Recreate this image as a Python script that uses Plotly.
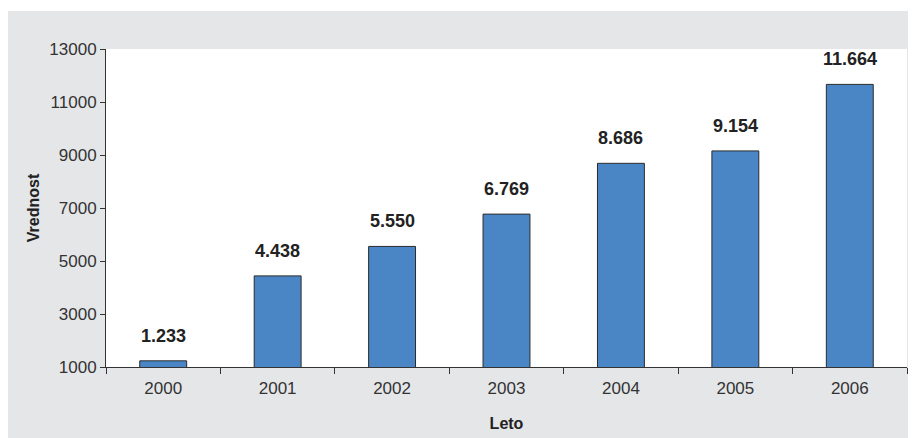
import plotly.graph_objects as go

years = ["2000", "2001", "2002", "2003", "2004", "2005", "2006"]
values = [1233, 4438, 5550, 6769, 8686, 9154, 11664]
y_ticks = [1000, 3000, 5000, 7000, 9000, 11000, 13000]

labels = [f"{v:,}".replace(",", ".") for v in values]

W, H = 915, 438
L, R, T, B = 106, 8, 49, 71
pw, ph = W - L - R, H - T - B

fig = go.Figure()
fig.add_trace(go.Bar(
    x=years, y=values,
    marker=dict(color="#4a86c6", line=dict(color="#2b2b2b", width=1)),
    hoverinfo="x+y",
))

for i, (v, t) in enumerate(zip(values, labels)):
    fig.add_annotation(x=i, y=v, text=f"<b>{t}</b>", showarrow=False,
                       yanchor="bottom", yshift=13,
                       font=dict(family="Liberation Sans, Arial", size=18, color="#222"))

# gray panel
def px2x(p):
    return (p - L) / pw

def py2y(p):
    return (H - B - p) / ph

fig.add_shape(type="rect", xref="paper", yref="paper", layer="below",
              x0=px2x(8), x1=px2x(908), y0=py2y(438), y1=py2y(11),
              fillcolor="#e5e6e8", line=dict(width=0))
fig.add_shape(type="rect", xref="paper", yref="paper", layer="below",
              x0=0, x1=1, y0=0, y1=1,
              fillcolor="white", line=dict(width=0))

fig.update_layout(
    width=W, height=H,
    margin=dict(l=L, r=R, t=T, b=B),
    paper_bgcolor="white",
    plot_bgcolor="white",
    showlegend=False,
    bargap=0.59,
    font=dict(family="Liberation Sans, Arial", size=17, color="#333"),
)
fig.update_xaxes(
    type="category",
    range=[-0.5, len(years) - 0.5],
    showline=True, linecolor="#333", linewidth=1,
    ticks="outside", tickson="boundaries", ticklen=6, tickcolor="#333",
    ticklabelstandoff=6,
    showgrid=False,
    tickfont=dict(size=17, color="#333"),
    title=dict(text="<b>Leto</b>", font=dict(size=16, color="#222"), standoff=20),
)
fig.update_yaxes(
    range=[1000, 13000],
    tickvals=y_ticks,
    ticktext=[str(t) for t in y_ticks],
    showline=True, linecolor="#333", linewidth=1,
    ticks="outside", ticklen=5, tickcolor="#333",
    showgrid=False, zeroline=False,
    tickfont=dict(size=17, color="#333"),
    title=dict(text="<b>Vrednost</b>", font=dict(size=16, color="#222"), standoff=5),
)

fig.write_html("out.html")
